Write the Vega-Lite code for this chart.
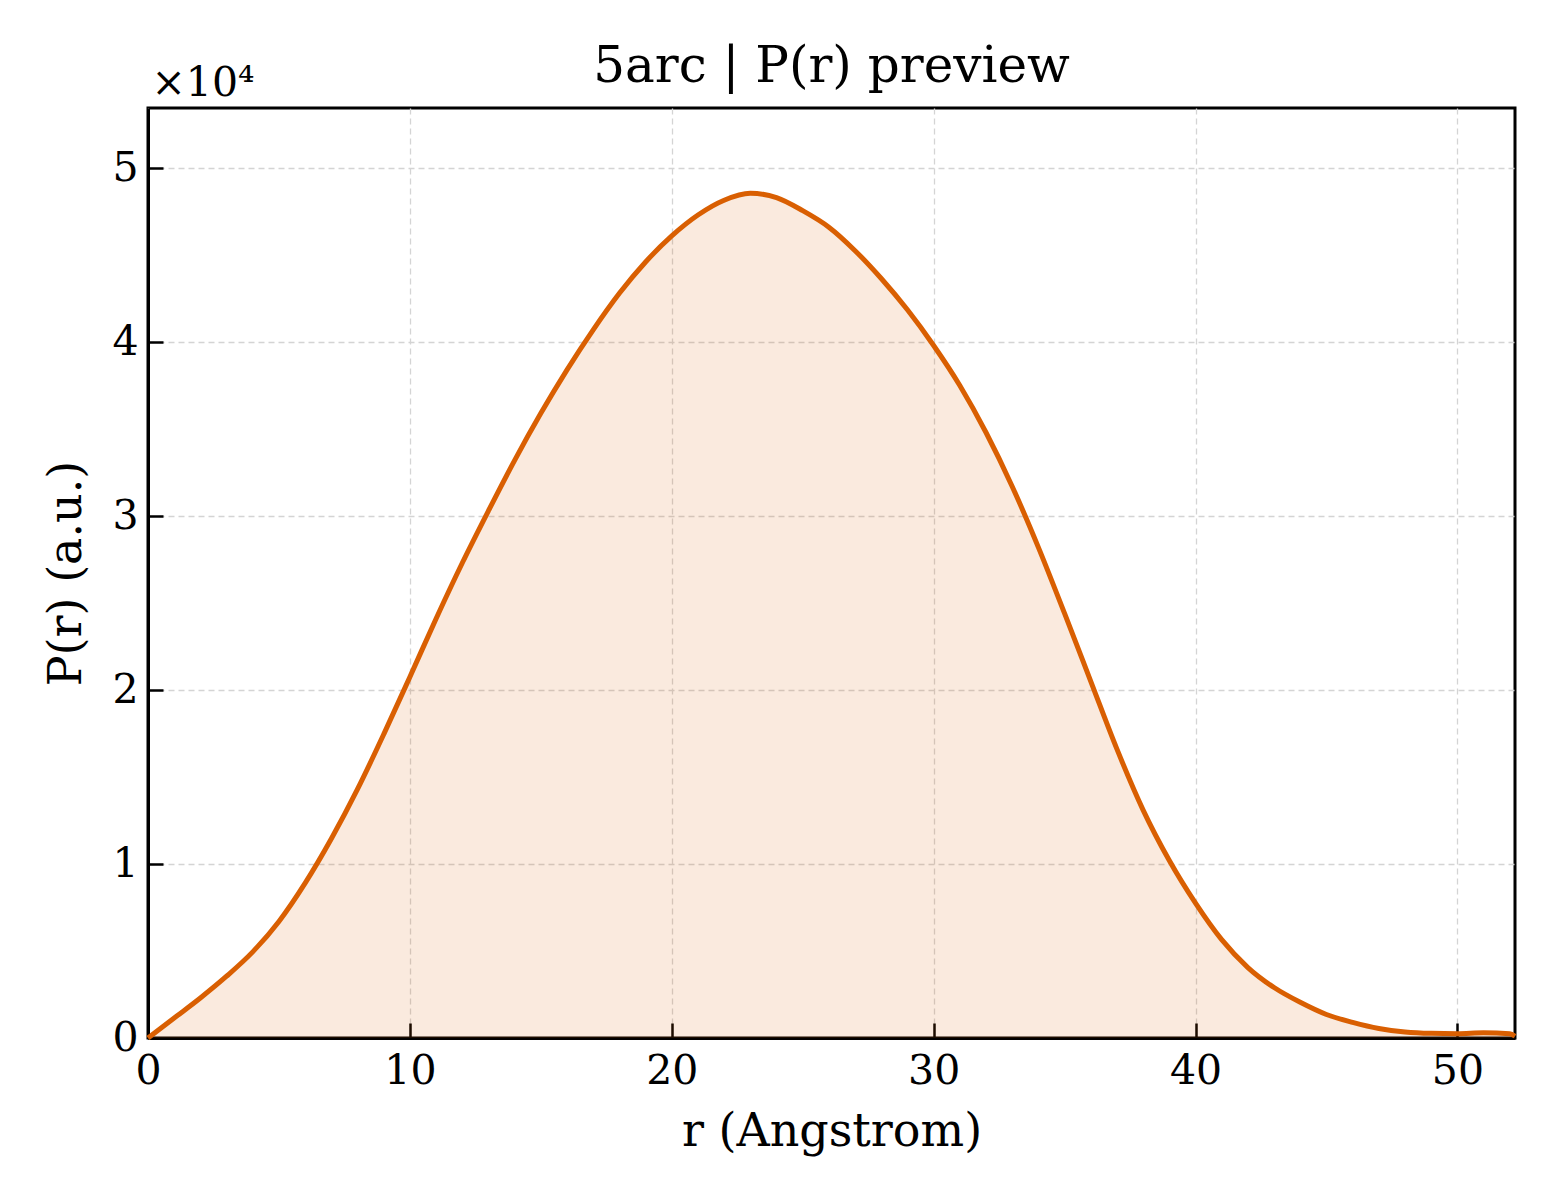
{
  "$schema": "https://vega.github.io/schema/vega-lite/v6.json",
  "autosize": {"type": "none"},
  "padding": {"left": 148, "top": 108, "right": 45, "bottom": 162},
  "width": 1367,
  "height": 930,
  "background": "white",
  "config": {
    "font": "DejaVu Serif",
    "view": {"stroke": "black", "strokeWidth": 3},
    "axis": {
      "labelFont": "DejaVu Serif",
      "titleFont": "DejaVu Serif",
      "labelFontSize": 41,
      "titleFontSize": 46,
      "titleFontWeight": "normal",
      "labelColor": "black",
      "titleColor": "black",
      "domainColor": "black",
      "domainWidth": 3,
      "tickColor": "black",
      "tickWidth": 2.5,
      "tickSize": -15,
      "labelFlush": false,
      "gridColor": "#d4d4d4",
      "gridDash": [6, 4],
      "gridWidth": 1.3,
      "zindex": 1
    }
  },
  "title": {
    "text": "5arc | P(r) preview",
    "font": "DejaVu Serif",
    "fontSize": 50,
    "fontWeight": "normal",
    "color": "black",
    "anchor": "middle",
    "frame": "group",
    "baseline": "alphabetic",
    "offset": 22,
    "dy": 92
  },
  "data": {
    "values": [
      {"r": 0, "P": 0},
      {"r": 1, "P": 1150},
      {"r": 2, "P": 2300},
      {"r": 3, "P": 3550},
      {"r": 4, "P": 4950},
      {"r": 5, "P": 6700},
      {"r": 6, "P": 8900},
      {"r": 7, "P": 11450},
      {"r": 8, "P": 14300},
      {"r": 9, "P": 17450},
      {"r": 10, "P": 20750},
      {"r": 11, "P": 24100},
      {"r": 12, "P": 27300},
      {"r": 13, "P": 30300},
      {"r": 14, "P": 33200},
      {"r": 15, "P": 35900},
      {"r": 16, "P": 38400},
      {"r": 17, "P": 40700},
      {"r": 18, "P": 42800},
      {"r": 19, "P": 44600},
      {"r": 20, "P": 46100},
      {"r": 21, "P": 47300},
      {"r": 22, "P": 48150},
      {"r": 23, "P": 48550},
      {"r": 24, "P": 48300},
      {"r": 25, "P": 47550},
      {"r": 26, "P": 46600},
      {"r": 27, "P": 45250},
      {"r": 28, "P": 43650},
      {"r": 29, "P": 41850},
      {"r": 30, "P": 39800},
      {"r": 31, "P": 37500},
      {"r": 32, "P": 34800},
      {"r": 33, "P": 31700},
      {"r": 34, "P": 28200},
      {"r": 35, "P": 24400},
      {"r": 36, "P": 20500},
      {"r": 37, "P": 16600},
      {"r": 38, "P": 13100},
      {"r": 39, "P": 10200},
      {"r": 40, "P": 7750},
      {"r": 41, "P": 5650},
      {"r": 42, "P": 4050},
      {"r": 43, "P": 2900},
      {"r": 44, "P": 2050},
      {"r": 45, "P": 1350},
      {"r": 46, "P": 900},
      {"r": 47, "P": 550},
      {"r": 48, "P": 350},
      {"r": 49, "P": 270},
      {"r": 50, "P": 250},
      {"r": 51, "P": 300},
      {"r": 52, "P": 250},
      {"r": 52.2, "P": 100}
    ]
  },
  "encoding": {
    "x": {
      "field": "r",
      "type": "quantitative",
      "scale": {"domain": [0, 52.2], "nice": false, "zero": false}
    },
    "y": {
      "field": "P",
      "type": "quantitative",
      "scale": {"domain": [0, 53450], "nice": false}
    }
  },
  "layer": [
    {
      "mark": {"type": "area", "color": "#d95f02", "opacity": 0.13, "interpolate": "monotone"},
      "encoding": {
        "x": {
          "field": "r",
          "type": "quantitative",
          "title": "r (Angstrom)",
          "axis": {"values": [0, 10, 20, 30, 40, 50], "labelPadding": 28, "titlePadding": 18}
        },
        "y": {
          "field": "P",
          "type": "quantitative",
          "title": "P(r) (a.u.)",
          "axis": {
            "values": [0, 10000, 20000, 30000, 40000, 50000],
            "labelExpr": "datum.value / 10000",
            "labelPadding": 25,
            "titlePadding": 21
          }
        }
      }
    },
    {
      "mark": {"type": "line", "color": "#d95f02", "strokeWidth": 5, "interpolate": "monotone"},
      "encoding": {
        "x": {
          "field": "r",
          "type": "quantitative",
          "axis": {
            "orient": "top",
            "title": "×10⁴",
            "labels": false,
            "ticks": false,
            "domain": false,
            "grid": false,
            "titleFontSize": 41,
            "titleAnchor": "start",
            "titleAlign": "left",
            "titleBaseline": "alphabetic",
            "titleX": 3,
            "titleY": -13
          }
        }
      }
    }
  ],
  "resolve": {"axis": {"x": "independent"}}
}
